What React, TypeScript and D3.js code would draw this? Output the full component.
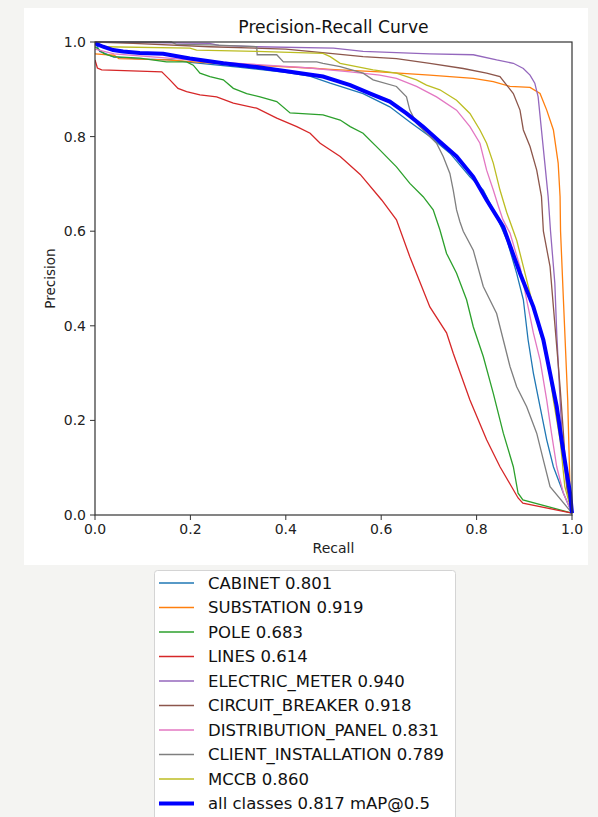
import React from 'react';
import * as d3 from 'd3';

// constants
const W = 598;
const H = 817;
const plot = { left: 95, top: 42, right: 572, bottom: 515 };
const font = 'DejaVu Sans, sans-serif';

// class names, AP values and colours
const classNames = ['CABINET', 'SUBSTATION', 'POLE', 'LINES', 'ELECTRIC_METER', 'CIRCUIT_BREAKER', 'DISTRIBUTION_PANEL', 'CLIENT_INSTALLATION', 'MCCB'];
const classAP = [0.801, 0.919, 0.683, 0.614, 0.940, 0.918, 0.831, 0.789, 0.860];
const classColors = ['#1f77b4', '#ff7f0e', '#2ca02c', '#d62728', '#9467bd', '#8c564b', '#e377c2', '#7f7f7f', '#bcbd22'];
const allMAP = 0.817;
const xTicks = [0, 0.2, 0.4, 0.6, 0.8, 1.0];
const yTicks = [0, 0.2, 0.4, 0.6, 0.8, 1.0];

// [recall, precision]
const cabinet = [[0,1.0],[0.01,0.98],[0.04,0.968],[0.1,0.964],[0.16,0.962],[0.2,0.957],[0.3,0.947],[0.4,0.936],[0.45,0.928],[0.493,0.913],[0.562,0.891],[0.618,0.863],[0.66,0.831],[0.702,0.8],[0.744,0.765],[0.786,0.715],[0.814,0.687],[0.842,0.631],[0.864,0.58],[0.884,0.511],[0.898,0.455],[0.908,0.37],[0.919,0.3],[0.933,0.229],[0.947,0.159],[0.961,0.102],[0.982,0.046],[1.0,0.004]];
const substation = [[0,0.975],[0.04,0.972],[0.05,0.965],[0.15,0.962],[0.25,0.955],[0.35,0.95],[0.45,0.945],[0.493,0.942],[0.597,0.937],[0.702,0.93],[0.793,0.923],[0.835,0.916],[0.87,0.906],[0.912,0.904],[0.933,0.891],[0.947,0.856],[0.961,0.814],[0.971,0.744],[0.975,0.673],[0.976,0.6],[0.982,0.455],[0.991,0.243],[0.996,0.046],[1.0,0.004]];
const pole = [[0,0.99],[0.02,0.975],[0.038,0.969],[0.094,0.966],[0.15,0.958],[0.192,0.958],[0.206,0.951],[0.22,0.934],[0.241,0.927],[0.269,0.92],[0.29,0.902],[0.318,0.891],[0.346,0.884],[0.381,0.874],[0.409,0.85],[0.478,0.846],[0.514,0.835],[0.535,0.821],[0.562,0.807],[0.597,0.772],[0.632,0.736],[0.66,0.701],[0.688,0.673],[0.709,0.645],[0.723,0.603],[0.737,0.553],[0.758,0.511],[0.779,0.455],[0.793,0.398],[0.814,0.335],[0.835,0.257],[0.856,0.173],[0.877,0.102],[0.887,0.046],[0.897,0.032],[1.0,0.004]];
const lines = [[0,0.962],[0.005,0.945],[0.014,0.941],[0.14,0.937],[0.157,0.92],[0.174,0.902],[0.192,0.895],[0.22,0.888],[0.255,0.884],[0.29,0.871],[0.339,0.86],[0.381,0.839],[0.423,0.821],[0.451,0.807],[0.472,0.786],[0.514,0.758],[0.556,0.72],[0.601,0.666],[0.632,0.624],[0.66,0.546],[0.702,0.44],[0.737,0.385],[0.751,0.342],[0.786,0.243],[0.821,0.159],[0.849,0.102],[0.887,0.036],[0.897,0.025],[1.0,0.004]];
const electricMeter = [[0,1.0],[0.24,0.997],[0.26,0.993],[0.34,0.99],[0.5,0.987],[0.562,0.98],[0.702,0.975],[0.793,0.973],[0.842,0.962],[0.877,0.955],[0.898,0.944],[0.912,0.93],[0.922,0.913],[0.929,0.884],[0.936,0.814],[0.943,0.744],[0.95,0.673],[0.955,0.6],[0.964,0.49],[0.968,0.384],[0.975,0.243],[0.982,0.116],[0.991,0.046],[1.0,0.004]];
const circuitBreaker = [[0,1.0],[0.08,0.997],[0.24,0.99],[0.4,0.985],[0.493,0.976],[0.562,0.969],[0.632,0.965],[0.702,0.955],[0.772,0.944],[0.821,0.934],[0.849,0.927],[0.863,0.909],[0.877,0.891],[0.891,0.856],[0.898,0.814],[0.912,0.779],[0.926,0.729],[0.936,0.673],[0.94,0.6],[0.954,0.525],[0.961,0.44],[0.968,0.356],[0.975,0.271],[0.982,0.173],[0.989,0.06],[1.0,0.004]];
const distributionPanel = [[0,0.985],[0.04,0.975],[0.2,0.962],[0.3,0.955],[0.45,0.945],[0.535,0.937],[0.597,0.93],[0.632,0.923],[0.674,0.906],[0.716,0.884],[0.758,0.856],[0.786,0.821],[0.807,0.786],[0.821,0.729],[0.835,0.687],[0.845,0.655],[0.855,0.625],[0.87,0.596],[0.891,0.525],[0.905,0.455],[0.919,0.385],[0.933,0.328],[0.947,0.243],[0.957,0.173],[0.968,0.102],[0.982,0.046],[1.0,0.004]];
const clientInstallation = [[0,1.0],[0.16,1.0],[0.17,0.995],[0.241,0.994],[0.339,0.99],[0.34,0.973],[0.381,0.973],[0.395,0.958],[0.465,0.958],[0.478,0.955],[0.514,0.948],[0.562,0.934],[0.583,0.92],[0.632,0.906],[0.653,0.884],[0.66,0.856],[0.674,0.828],[0.695,0.807],[0.716,0.786],[0.73,0.758],[0.744,0.722],[0.751,0.687],[0.758,0.645],[0.765,0.62],[0.772,0.6],[0.793,0.56],[0.814,0.483],[0.842,0.426],[0.856,0.37],[0.87,0.314],[0.884,0.271],[0.905,0.229],[0.926,0.173],[0.94,0.116],[0.954,0.06],[1.0,0.004]];
const mccb = [[0,1.0],[0.02,0.99],[0.199,0.987],[0.213,0.983],[0.339,0.98],[0.478,0.976],[0.493,0.969],[0.514,0.955],[0.583,0.941],[0.632,0.934],[0.674,0.92],[0.695,0.909],[0.723,0.899],[0.758,0.877],[0.786,0.849],[0.807,0.814],[0.821,0.786],[0.835,0.744],[0.849,0.687],[0.863,0.64],[0.884,0.581],[0.898,0.525],[0.919,0.44],[0.933,0.385],[0.947,0.342],[0.961,0.243],[0.975,0.159],[0.985,0.06],[1.0,0.004]];
const allClasses = [[0,0.997],[0.017,0.99],[0.038,0.983],[0.059,0.98],[0.094,0.977],[0.143,0.975],[0.199,0.965],[0.269,0.955],[0.339,0.947],[0.409,0.937],[0.478,0.927],[0.535,0.909],[0.577,0.891],[0.618,0.874],[0.653,0.849],[0.688,0.821],[0.723,0.789],[0.758,0.758],[0.793,0.715],[0.821,0.666],[0.856,0.609],[0.891,0.511],[0.919,0.44],[0.94,0.37],[0.954,0.3],[0.968,0.229],[0.978,0.159],[0.989,0.089],[0.996,0.046],[1.0,0.004]];

const classCurves = [cabinet, substation, pole, lines, electricMeter, circuitBreaker, distributionPanel, clientInstallation, mccb];

const App = () => {
  const x = d3.scaleLinear().domain([0, 1]).range([plot.left, plot.right]);
  const y = d3.scaleLinear().domain([0, 1]).range([plot.bottom, plot.top]);
  const line = d3.line<number[]>().x(d => x(d[0])).y(d => y(d[1]));

  const legendItems = classNames.map((n, i) => ({ label: `${n} ${classAP[i].toFixed(3)}`, color: classColors[i], width: 1.3 }))
    .concat([{ label: `all classes ${allMAP.toFixed(3)} mAP@0.5`, color: '#0000ff', width: 4 }]);

  return (
    <svg width={W} height={H} style={{ position: 'fixed', left: 0, top: 0 }} fontFamily={font}>
      <rect x={0} y={0} width={W} height={H} fill="#f4f4f2" />
      <rect x={24} y={8} width={564} height={557} fill="#fff" />

      <text x={(plot.left + plot.right) / 2} y={33} textAnchor="middle" fontSize={17.2} fill="#111">Precision-Recall Curve</text>

      <clipPath id="plotclip">
        <rect x={plot.left} y={plot.top - 3} width={plot.right - plot.left + 2} height={plot.bottom - plot.top + 3} />
      </clipPath>
      <g clipPath="url(#plotclip)" fill="none">
        {classCurves.map((c, i) => (
          <path key={i} d={line(c) || ''} stroke={classColors[i]} strokeWidth={1.3} />
        ))}
        <path d={line(allClasses) || ''} stroke="#0000ff" strokeWidth={4} />
      </g>

      <rect x={plot.left} y={plot.top} width={plot.right - plot.left} height={plot.bottom - plot.top} fill="none" stroke="#333" strokeWidth={1.2} />

      {/* x axis */}
      {xTicks.map(t => (
        <g key={t} transform={`translate(${x(t)},${plot.bottom})`}>
          <line y2={5} stroke="#333" strokeWidth={1} />
          <text y={19} textAnchor="middle" fontSize={14} fill="#222">{t.toFixed(1)}</text>
        </g>
      ))}
      <text x={(plot.left + plot.right) / 2} y={553} textAnchor="middle" fontSize={14} fill="#222">Recall</text>

      {/* y axis */}
      {yTicks.map(t => (
        <g key={t} transform={`translate(${plot.left},${y(t)})`}>
          <line x2={-5} stroke="#333" strokeWidth={1} />
          <text x={-9} dy="0.35em" textAnchor="end" fontSize={14} fill="#222">{t.toFixed(1)}</text>
        </g>
      ))}
      <text transform={`translate(55,${(plot.top + plot.bottom) / 2}) rotate(-90)`} textAnchor="middle" fontSize={13.5} fill="#222">Precision</text>

      {/* legend */}
      <rect x={154.5} y={570.5} width={301} height={260} rx={3} fill="#fff" stroke="#d4d4d4" />
      {legendItems.map((d, i) => (
        <g key={d.label} transform={`translate(0,${583 + i * 24.5})`}>
          <line x1={159} x2={194} stroke={d.color} strokeWidth={d.width} />
          <text x={208} dy="0.36em" fontSize={16.5} fill="#111">{d.label}</text>
        </g>
      ))}
    </svg>
  );
};

export default App;
